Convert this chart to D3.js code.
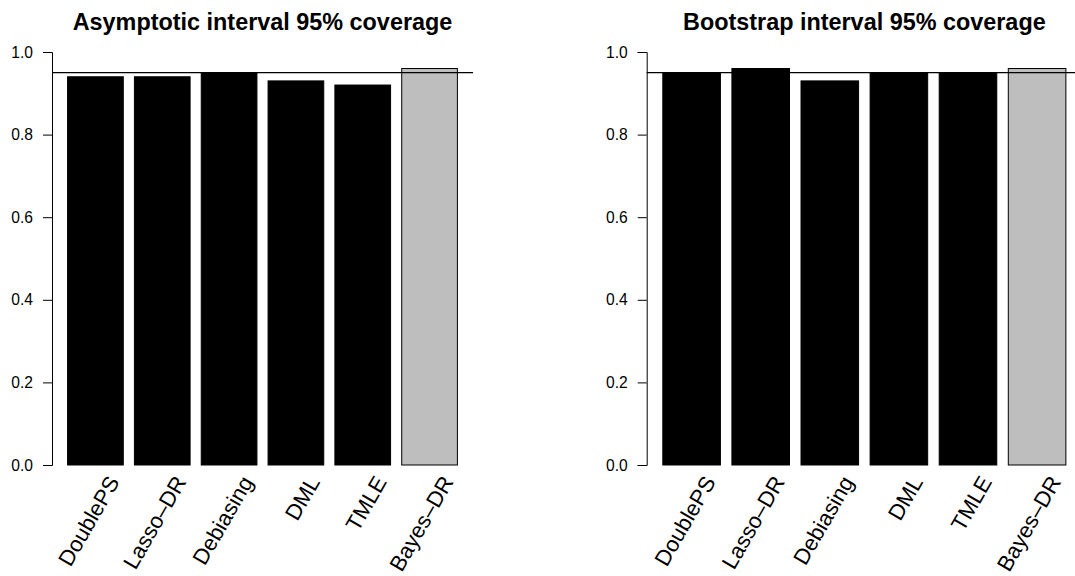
<!DOCTYPE html>
<html><head><meta charset="utf-8">
<script src="https://cdn.jsdelivr.net/npm/d3@7"></script>
<style>
body{margin:0;background:#fff;}
text{font-family:"Liberation Sans",Arial,sans-serif;fill:#000;}
</style></head>
<body>
<svg id="chart" width="1075" height="576"></svg>
<script>
const categories = ["DoublePS","Lasso\u2013DR","Debiasing","DML","TMLE","Bayes\u2013DR"];
const asymptoticCoverage = [0.94,0.94,0.95,0.93,0.92,0.96];
const bootstrapCoverage = [0.95,0.96,0.93,0.95,0.95,0.96];
const barColors = ["#000000","#000000","#000000","#000000","#000000","#BEBEBE"];
const yTicks = [0,0.2,0.4,0.6,0.8,1.0];
const targetLevel = 0.95;
const titles = ["Asymptotic interval 95% coverage","Bootstrap interval 95% coverage"];

const svg = d3.select("#chart");
svg.append("rect").attr("width",1075).attr("height",576).attr("fill","#fff");

const panels = [
  {values: asymptoticCoverage, title: titles[0], x0: 52, x1: 473},
  {values: bootstrapCoverage, title: titles[1], x0: 646.7, x1: 1082}
];

const y = d3.scaleLinear().domain([0,1]).range([465,52]);

panels.forEach(p => {
  const g = svg.append("g");
  const x = d3.scaleLinear().domain([-0.08,7.48]).range([p.x0,p.x1]);
  const left = i => 0.2 + 1.2*i;

  g.selectAll("rect.bar").data(p.values).join("rect")
    .attr("class","bar")
    .attr("x",(d,i)=>x(left(i)))
    .attr("width",(d,i)=>x(left(i)+1)-x(left(i)))
    .attr("y",d=>y(d))
    .attr("height",d=>y(0)-y(d))
    .attr("fill",(d,i)=>barColors[i])
    .attr("stroke","#000").attr("stroke-width",1);

  g.append("line")
    .attr("x1",p.x0).attr("x2",p.x1)
    .attr("y1",y(targetLevel)).attr("y2",y(targetLevel))
    .attr("stroke","#000").attr("stroke-width",1.2);

  const axis = d3.axisLeft(y).tickValues(yTicks).tickFormat(d3.format(".1f")).tickSize(9).tickPadding(10);
  const ag = g.append("g").attr("transform",`translate(${p.x0},0)`).call(axis);
  ag.select(".domain").attr("stroke","#000").attr("stroke-width",1);
  ag.selectAll(".tick line").attr("stroke","#000");
  ag.selectAll("text").attr("font-size",15.6).attr("font-family","Liberation Sans, Arial, sans-serif").attr("fill","#000");

  g.selectAll("text.cat").data(categories).join("text")
    .attr("class","cat")
    .attr("text-anchor","end")
    .attr("dy","0.35em")
    .attr("font-size",22)
    .attr("transform",(d,i)=>`translate(${x(left(i)+0.5)+18},${478}) rotate(-60)`)
    .text(d=>d);

  g.append("text")
    .attr("x",(p.x0+p.x1)/2).attr("y",30)
    .attr("text-anchor","middle")
    .attr("font-weight","bold")
    .attr("font-size",23.4)
    .text(p.title);
});
</script>
</body></html>
